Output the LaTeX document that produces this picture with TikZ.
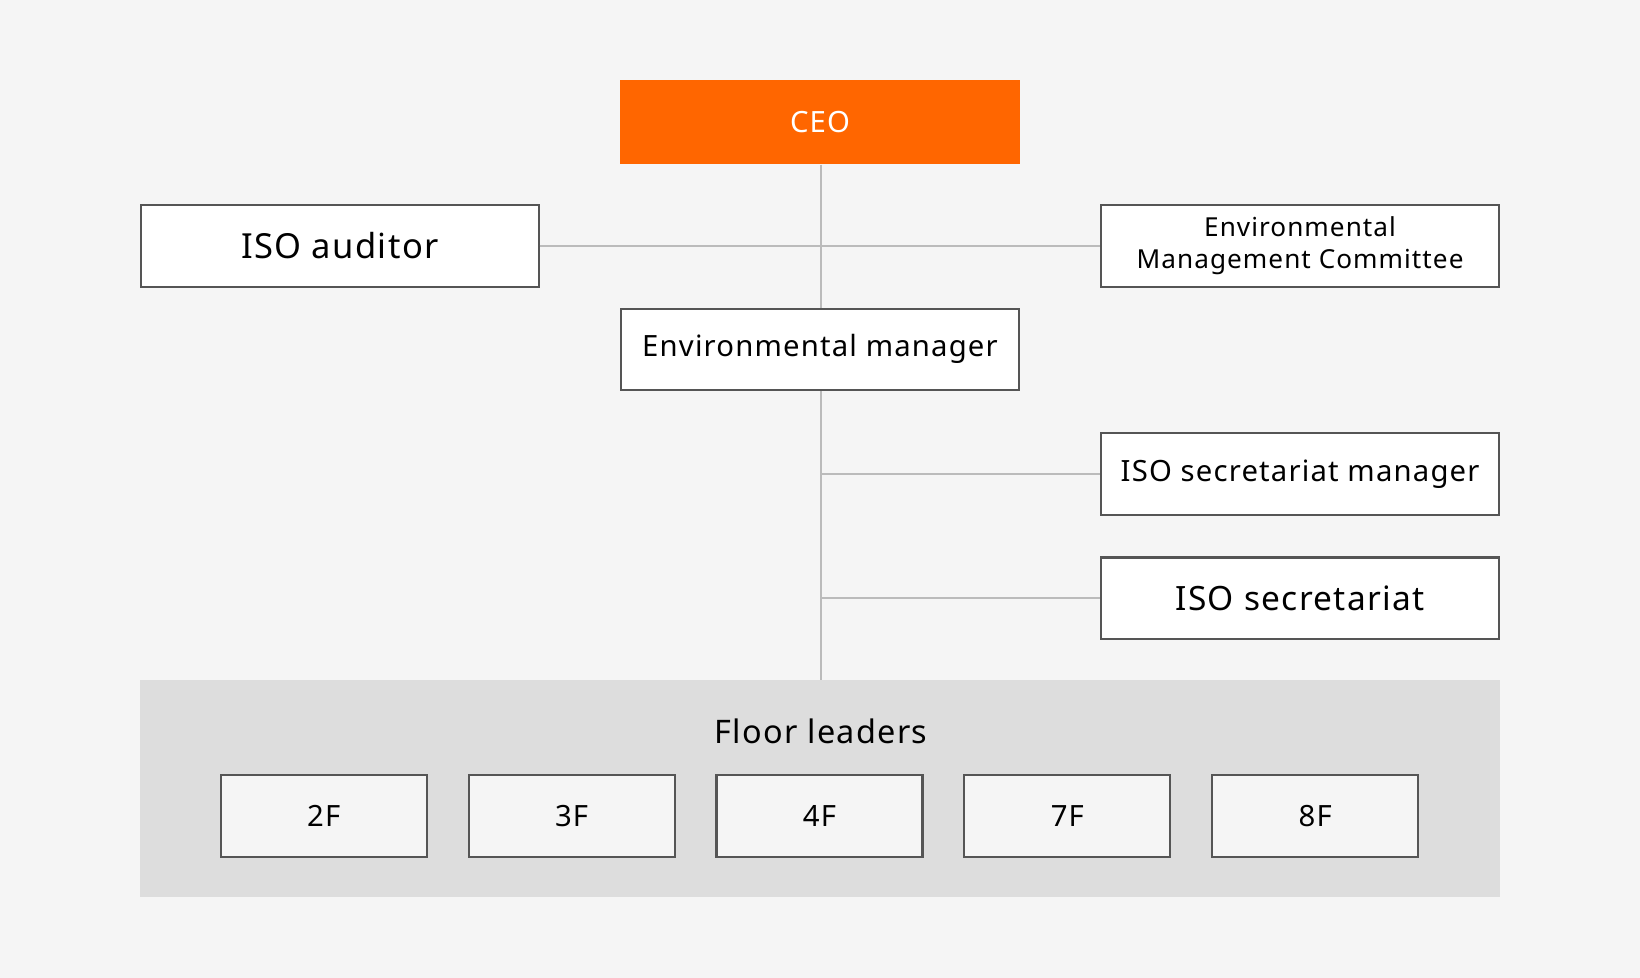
\documentclass[tikz,border=0pt]{standalone}
\usepackage{fontspec}
\setmainfont{Noto Sans}[LetterSpace=4]
\usetikzlibrary{positioning}
\definecolor{bgcol}{HTML}{F5F5F5}
\definecolor{ceocol}{HTML}{FF6600}
\definecolor{panelcol}{HTML}{DDDDDD}
\definecolor{edgecol}{HTML}{555555}
\definecolor{linkcol}{HTML}{BBBBBB}
\tikzset{
  box/.style={draw=edgecol, line width=2pt, fill=white, minimum width=380pt,
    minimum height=78pt, inner sep=0pt, align=center, font=\bfseries\fontsize{28}{32}\selectfont},
  floor/.style={box, fill=bgcol, minimum width=197pt},
  link/.style={draw=linkcol, line width=2pt}
}
\begin{document}
\begin{tikzpicture}[x=1pt,y=-1pt]
  \fill[bgcol] (0,0) rectangle (1568,935);
  \useasboundingbox (0,0) rectangle (1568,935);
  \fill[panelcol] (134,650) rectangle (1434,858);
  \coordinate (top) at (785,650);
  \node[box, fill=ceocol, draw=none, text=white, minimum width=382pt, minimum height=80pt] (ceo) at (784,116.5) {CEO};
  \node[box, font=\bfseries\fontsize{33}{36}\selectfont] (auditor) at (325,235) {ISO auditor};
  \node[box, font=\bfseries\fontsize{25}{30}\selectfont] (emc) at (1243,235) {Environmental\\Management Committee};
  \node[box] (envman) at (784,334) {Environmental manager};
  \node[box] (secman) at (1243,453) {ISO secretariat manager};
  \node[box, font=\bfseries\fontsize{32}{36}\selectfont] (sec) at (1243,572) {ISO secretariat};
  \node[font=\bfseries\fontsize{31}{36}\selectfont] (leaders) at (785,699) {Floor leaders};
  \foreach \f/\x in {2F/309.5, 3F/546.5, 4F/783.5, 7F/1020.5, 8F/1257.5}
    \node[floor] (f\f) at (\x,780) {\f};
  % connectors
  \begin{scope}[on background layer/.style={}]
    \path[link] (ceo.south -| top) -- (envman.north -| top);
    \path[link] (auditor.east) -- (emc.west);
    \path[link] (envman.south -| top) -- (top);
    \path[link] (secman.west -| top) -- (secman.west);
    \path[link] (sec.west -| top) -- (sec.west);
  \end{scope}
\end{tikzpicture}
\end{document}
